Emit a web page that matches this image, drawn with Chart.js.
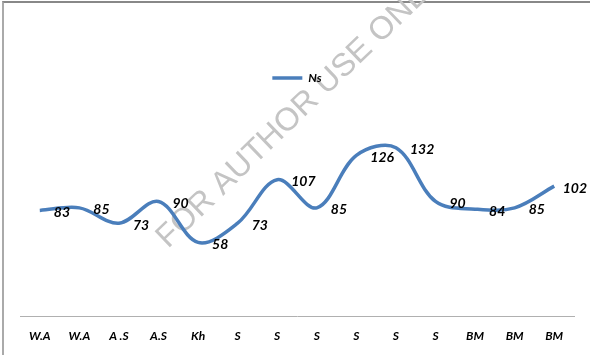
<!DOCTYPE html>
<html>
<head>
<meta charset="utf-8">
<script src="https://cdn.jsdelivr.net/npm/chart.js@4/dist/chart.umd.min.js"></script>
<style>
  body { margin: 0; background: #fff; }
  #frame { position: absolute; left: 2px; top: 1px; width: 620px; height: 400px;
           border-left: 2px solid #aaa; border-top: 2px solid #888; }
  #wrap { position: absolute; left: 0; top: 0; width: 590px; height: 355px; }
</style>
</head>
<body>
<div id="frame"></div>
<div id="wrap"><canvas id="myChart" width="590" height="355"></canvas></div>
<script>
  // categories and values
  var categories = ['W.A', 'W.A', 'A .S', 'A.S', 'Kh', 'S', 'S', 'S', 'S', 'S', 'S', 'BM', 'BM', 'BM'];
  var nsValues = [83, 85, 73, 90, 58, 73, 107, 85, 126, 132, 90, 84, 85, 102];
  var seriesName = 'Ns';
  var watermark = 'FOR AUTHOR USE ONLY';

  var blue = '#4a7ebb';

  // grey diagonal watermark under everything
  var watermarkPlugin = {
    id: 'watermark',
    beforeDraw: function(chart) {
      var ctx = chart.ctx;
      ctx.save();
      ctx.translate(168, 249);
      ctx.rotate(-44 * Math.PI / 180);
      ctx.font = '32px "Liberation Sans", Arial, sans-serif';
      ctx.fillStyle = '#c4c4c4';
      ctx.textAlign = 'left';
      ctx.textBaseline = 'alphabetic';
      ctx.fillText(watermark, 0, 0);
      ctx.restore();
    }
  };

  // value labels placed to the right of each point
  var valueLabels = {
    id: 'valueLabels',
    afterDatasetsDraw: function(chart) {
      var ctx = chart.ctx;
      var meta = chart.getDatasetMeta(0);
      ctx.save();
      ctx.font = 'italic bold 14px Lato, sans-serif';
      ctx.fillStyle = '#000';
      ctx.textAlign = 'left';
      ctx.textBaseline = 'middle';
      meta.data.forEach(function(pt, i) {
        var txt = String(nsValues[i]);
        var x = pt.x + 14;
        var w = ctx.measureText(txt).width;
        if (x + w > chart.width - 3) x = chart.width - 3 - w;
        ctx.fillText(txt, x, pt.y + 2);
      });
      ctx.restore();
    }
  };

  var ctx = document.getElementById('myChart').getContext('2d');
  var myChart = new Chart(ctx, {
    type: 'line',
    data: {
      labels: categories,
      datasets: [{
        label: seriesName,
        data: nsValues,
        borderColor: blue,
        backgroundColor: blue,
        borderWidth: 3.5,
        pointRadius: 0,
        tension: 0.35,
        fill: false
      }]
    },
    options: {
      responsive: false,
      animation: false,
      layout: { padding: { left: 20, right: 16, top: 21, bottom: 0 } },
      plugins: {
        tooltip: { enabled: false },
        legend: {
          position: 'top',
          labels: {
            usePointStyle: true,
            pointStyle: 'line',
            pointStyleWidth: 30,
            padding: 51,
            color: '#000',
            font: { family: 'Lato', size: 12, style: 'italic', weight: 'bold' }
          }
        }
      },
      scales: {
        x: {
          offset: true,
          grid: { display: false, drawTicks: false },
          border: { display: true, color: '#b0b0b0', width: 1 },
          ticks: {
            autoSkip: false,
            maxRotation: 0,
            padding: 12,
            color: '#000',
            font: { family: 'Lato', size: 12, style: 'italic', weight: 'bold' }
          }
        },
        y: {
          display: false,
          min: 0,
          max: 174
        }
      }
    },
    plugins: [watermarkPlugin, valueLabels]
  });
</script>
</body>
</html>
